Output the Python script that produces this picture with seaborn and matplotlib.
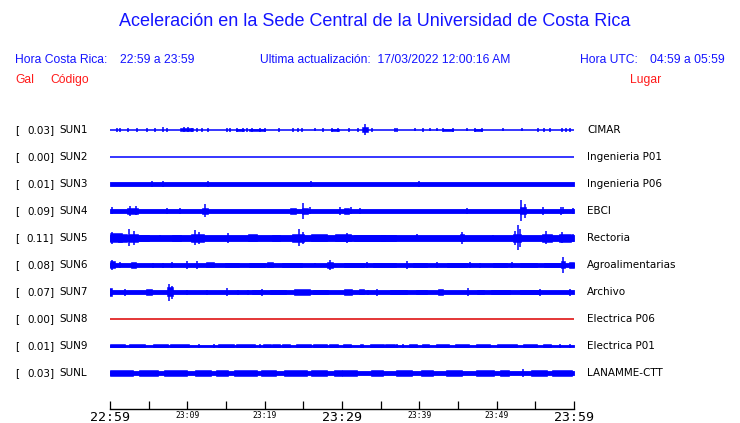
import numpy as np
import pandas as pd
import matplotlib
matplotlib.use('Agg')
import matplotlib.pyplot as plt
import matplotlib.transforms as mtransforms
import seaborn as sns

# station info
codes = ['SUN1', 'SUN2', 'SUN3', 'SUN4', 'SUN5', 'SUN6', 'SUN7', 'SUN8', 'SUN9', 'SUNL']
peaks = ['0.03', '0.00', '0.01', '0.09', '0.11', '0.08', '0.07', '0.00', '0.01', '0.03']
places = ['CIMAR', 'Ingenieria P01', 'Ingenieria P06', 'EBCI', 'Rectoria', 'Agroalimentarias',
          'Archivo', 'Electrica P06', 'Electrica P01', 'LANAMME-CTT']
trace_colors = ['blue'] * 7 + ['#dd0000'] + ['blue'] * 2

# background noise half-amplitude of each trace (row gap = 27)
base_amp = [0.6, 0.5, 2.3, 2.0, 2.8, 1.6, 1.8, 0.5, 1.0, 2.0]

# bursts: (minute after 22:59, half duration in min, half amplitude)
sun1 = [(0.9, 0, 2), (1.3, 0, 2), (2.3, 0, 2), (3.5, 0, 2), (4.8, 0, 2), (5.8, 0, 2), (6.9, 0, 2.5),
        (7.4, 0, 2), (9.9, 0.8, 1.5), (9.6, 0, 2.5), (10.1, 0, 2.5), (10.6, 0, 2), (11.3, 0, 2),
        (11.9, 0, 2), (12.7, 0, 2), (15.1, 0, 2), (15.5, 0, 2), (16.8, 0.5, 1.3), (16.4, 0, 2),
        (17.2, 0, 2), (17.7, 0, 2), (19.0, 1.0, 1.3), (18.4, 0, 2), (19.4, 0, 2), (20.0, 0, 2),
        (21.9, 0, 2), (23.7, 0, 2), (24.3, 0, 2), (24.8, 0, 2), (26.5, 0, 1.5), (27.5, 0, 2),
        (29.1, 0.5, 1.3), (28.7, 0, 2), (29.5, 0, 2), (30.9, 0, 2), (32.1, 0, 2), (33.0, 0.4, 2.5),
        (33.0, 0, 5.5), (33.9, 0, 2), (36.9, 0, 2), (37.1, 0, 2), (39.4, 0, 1.5), (40.5, 0, 2),
        (41.4, 0, 1.5), (42.3, 0, 1.5), (43.7, 0.6, 1.3), (43.1, 0, 2), (44.4, 0, 2), (46.2, 0, 1.5),
        (47.6, 0.5, 1.3), (47.2, 0, 2), (48.1, 0, 2), (50.8, 0, 1.5), (53.3, 0, 1.5), (55.3, 0, 2),
        (56.1, 0, 2), (56.9, 0, 2), (58.5, 0, 2), (59.0, 0, 2), (59.5, 0, 2)]
sun2 = []
sun3 = [(5.4, 0, 3), (6.9, 0, 3), (12.7, 0, 3), (26.0, 0, 3), (40.0, 0, 3)]
sun4 = [(0.2, 0, 3.5), (2.9, 0.7, 3), (2.6, 0, 5), (3.3, 0, 4.5), (7.4, 0, 3), (9.1, 0, 3),
        (12.3, 0.4, 3), (12.3, 0, 6.5), (23.7, 0.4, 2.8), (25.2, 0.4, 3), (25.0, 0, 8),
        (25.9, 0, 3.5), (29.7, 0, 4), (30.6, 0.3, 2.8), (31.2, 0, 3.5), (32.3, 0, 3), (46.2, 0, 3),
        (53.4, 0.4, 3.5), (53.2, 0, 10.5), (53.6, 0, 7), (56.0, 0, 4), (58.3, 0, 4), (58.6, 0, 3.5),
        (59.9, 0, 3)]
sun5 = [(0.8, 0.8, 4.5), (0.3, 0, 6), (1.6, 0.6, 4), (3.0, 0.6, 4), (2.5, 0, 8.5), (3.1, 0, 7),
        (4.4, 0.6, 3.3), (6.5, 0, 3), (8.6, 0.6, 3.3), (11.3, 0.8, 3.8), (11.0, 0, 7.5), (11.5, 0, 6),
        (15.3, 0, 5), (18.4, 0.6, 3.5), (21.5, 0.5, 3.3), (24.3, 0.8, 3.8), (24.5, 0, 8.5),
        (25.0, 0, 6), (27.0, 1.0, 3.5), (30.1, 1.0, 3.5), (30.6, 0, 5), (33.5, 2.0, 3.2),
        (36.0, 1.0, 3.2), (39.7, 0, 3.5), (45.5, 0.3, 3.5), (45.5, 0, 6), (49.5, 0, 3),
        (52.6, 0.5, 4), (52.8, 0, 12.5), (53.0, 0, 9), (52.4, 0, 7), (56.5, 0.6, 4), (56.4, 0, 6.5),
        (58.8, 0.8, 4), (58.5, 0, 5.5), (59.9, 0, 4)]
sun6 = [(0.3, 0.3, 3.5), (0.2, 0, 4.5), (1.3, 0, 3), (3.0, 0.3, 3), (5.6, 0, 2.5), (6.9, 0, 2.5),
        (8.0, 0, 3), (10.0, 0, 3.5), (11.3, 0, 4), (12.9, 0.5, 2.5), (15.8, 0.9, 2.3), (19.0, 1.0, 2.3),
        (20.7, 0.4, 2.5), (23.5, 1.3, 2.3), (26.5, 0, 2), (28.5, 0.4, 2.8), (28.5, 0, 4.5),
        (31.5, 1.3, 2.3), (33.2, 0, 3), (35.5, 1.5, 2.3), (38.4, 0, 3.5), (40.1, 0.9, 2), (42.3, 0, 3),
        (44.9, 1.3, 2.3), (46.6, 0, 3), (47.8, 0, 2.5), (50.4, 0.9, 2.3), (52.0, 0, 3), (54.1, 1.1, 2.3),
        (57.2, 1.1, 2.3), (58.6, 0.3, 3.5), (58.6, 0, 8), (59.7, 0.3, 3)]
sun7 = [(0.0, 0.2, 4), (1.9, 0, 3.5), (5.0, 0.4, 2.8), (7.8, 0.4, 4.5), (7.6, 0, 8.5), (8.0, 0, 6.5),
        (10.0, 0, 2.5), (12.5, 0, 2.5), (15.1, 0, 4), (16.6, 0, 2.5), (17.8, 0, 2.5), (19.0, 0.7, 2.4),
        (19.7, 0, 3.5), (21.7, 1.0, 2.4), (24.8, 1.0, 3), (27.2, 1.0, 2.4), (30.8, 0.5, 2.8),
        (32.5, 0.3, 2.5), (33.4, 0, 2.5), (34.5, 0, 3.5), (37.3, 1.1, 2.1), (40.3, 0.7, 2.4),
        (42.7, 0.3, 2.8), (46.3, 0, 4), (47.9, 0.4, 2.4), (50.5, 1.2, 2.4), (54.3, 1.3, 2.4),
        (55.6, 0, 3.5), (59.5, 0, 3.5)]
sun8 = []
sun9 = [(1.0, 1.0, 1.5), (3.5, 1.0, 1.5), (6.5, 1.0, 1.5), (9.0, 1.2, 1.5), (11.5, 0, 2), (13.5, 0, 1.8),
        (15.0, 1.0, 1.5), (17.5, 1.2, 1.5), (19.4, 0, 2), (20.3, 0.5, 1.5), (21.5, 0.5, 1.5),
        (22.8, 0.5, 1.5), (25.0, 1.0, 1.5), (27.2, 0.9, 1.5), (28.9, 0.6, 1.5), (30.6, 0.5, 1.5),
        (32.5, 0.2, 1.5), (34.5, 0.9, 1.5), (36.2, 0.7, 1.5), (37.1, 0, 2), (37.9, 0, 2),
        (39.2, 0.5, 1.5), (40.8, 0.5, 1.5), (43.0, 0.9, 1.5), (45.5, 0.9, 1.5), (48.2, 0.9, 1.5),
        (51.3, 1.3, 1.5), (54.3, 0.9, 1.5), (56.5, 0.5, 1.5), (58.2, 0, 2), (59.5, 0, 2)]
sunl = [(1.5, 1.5, 2.6), (5.0, 1.2, 2.6), (8.5, 1.5, 2.6), (12.0, 1.0, 2.6), (14.5, 0.8, 2.6),
        (17.5, 1.5, 2.6), (20.5, 1.0, 2.6), (24.0, 1.5, 2.6), (27.0, 1.0, 2.6), (29.5, 0.5, 2.6),
        (31.0, 1.0, 2.6), (34.5, 0.8, 2.8), (38.0, 1.0, 2.6), (41.0, 0.8, 2.6), (44.5, 1.0, 2.6),
        (48.5, 1.2, 2.6), (51.0, 0.6, 2.6), (53.4, 0, 4), (55.5, 1.0, 2.6), (58.5, 1.3, 2.6)]
bursts = [sun1, sun2, sun3, sun4, sun5, sun6, sun7, sun8, sun9, sunl]

tick_minutes = list(range(0, 61, 5))
tick_text = {0: '22:59', 10: '23:09', 20: '23:19', 30: '23:29', 40: '23:39', 50: '23:49', 60: '23:59'}
big_ticks = [0, 30, 60]

ROW = 27.0
sns.set_theme(style='white')
plt.rcParams['font.family'] = ['DejaVu Sans']

fig = plt.figure(figsize=(7.4, 4.23), dpi=100)
ax = fig.add_axes([110 / 740, 14 / 423, 464 / 740, 294 / 423])

for i, code in enumerate(codes):
    c = trace_colors[i]
    b = base_amp[i] / ROW
    line = pd.DataFrame({'t': [0, 60], 'y': [i, i]})
    if b < 0.03:
        sns.lineplot(data=line, x='t', y='y', color=c, lw=1.1, ax=ax)
    else:
        ax.fill_between([0, 60], i - b, i + b, color=c, lw=0.6)
    for t, w, a in bursts[i]:
        a = a / ROW
        if w == 0:
            ax.vlines(t, i - a, i + a, color=c, lw=1.1)
        else:
            ax.fill_between([t - w, t + w], i - a, i + a, color=c, lw=0.4)

ax.set_xlim(0, 60)
ax.set_ylim((409 - 130) / ROW, (115 - 130) / ROW)
ax.set_yticks([])
ax.set_xlabel('')
ax.set_ylabel('')
for s in ['top', 'left', 'right']:
    ax.spines[s].set_visible(False)
ax.spines['bottom'].set_color('black')
ax.spines['bottom'].set_linewidth(1)
ax.set_xticks(tick_minutes)
ax.set_xticklabels([tick_text.get(m, '') for m in tick_minutes])
ax.tick_params(axis='x', direction='in', length=6, width=0.9, color='black', pad=1.5,
               bottom=True)
for m, lab in zip(tick_minutes, ax.get_xticklabels()):
    lab.set_family('DejaVu Sans Mono')
    lab.set_color('black')
    lab.set_fontsize(9.5 if m in big_ticks else 5.8)

# row labels
tr = mtransforms.blended_transform_factory(fig.transFigure, ax.transData)
for i, code in enumerate(codes):
    ax.text(15 / 740, i, '[', transform=tr, ha='left', va='center', fontsize=7.5, color='black')
    ax.text(54 / 740, i, peaks[i] + ']', transform=tr, ha='right', va='center', fontsize=7.5,
            color='black')
    ax.text(59 / 740, i, code, transform=tr, ha='left', va='center', fontsize=7.5, color='black')
    ax.text(587 / 740, i, places[i], transform=tr, ha='left', va='center', fontsize=7.5,
            color='black')

# header
blue = '#1414ff'
red = '#ff1a1a'
hdr = dict(family='Liberation Sans', va='center')
fig.text(375 / 740, 1 - 21 / 423, 'Aceleración en la Sede Central de la Universidad de Costa Rica',
         ha='center', fontsize=13.0, color=blue, **hdr)
fig.text(15 / 740, 1 - 60 / 423, 'Hora Costa Rica:', ha='left', fontsize=8.7, color=blue, **hdr)
fig.text(120 / 740, 1 - 60 / 423, '22:59 a 23:59', ha='left', fontsize=8.7, color=blue, **hdr)
fig.text(260 / 740, 1 - 60 / 423, 'Ultima actualización:  17/03/2022 12:00:16 AM', ha='left',
         fontsize=8.7, color=blue, **hdr)
fig.text(580 / 740, 1 - 60 / 423, 'Hora UTC:', ha='left', fontsize=8.7, color=blue, **hdr)
fig.text(650 / 740, 1 - 60 / 423, '04:59 a 05:59', ha='left', fontsize=8.7, color=blue, **hdr)
fig.text(15 / 740, 1 - 80 / 423, 'Gal', ha='left', fontsize=8.7, color=red, **hdr)
fig.text(50 / 740, 1 - 80 / 423, 'Código', ha='left', fontsize=8.7, color=red, **hdr)
fig.text(630 / 740, 1 - 80 / 423, 'Lugar', ha='left', fontsize=8.7, color=red, **hdr)

fig.savefig('out.png', dpi=100, facecolor='white')
